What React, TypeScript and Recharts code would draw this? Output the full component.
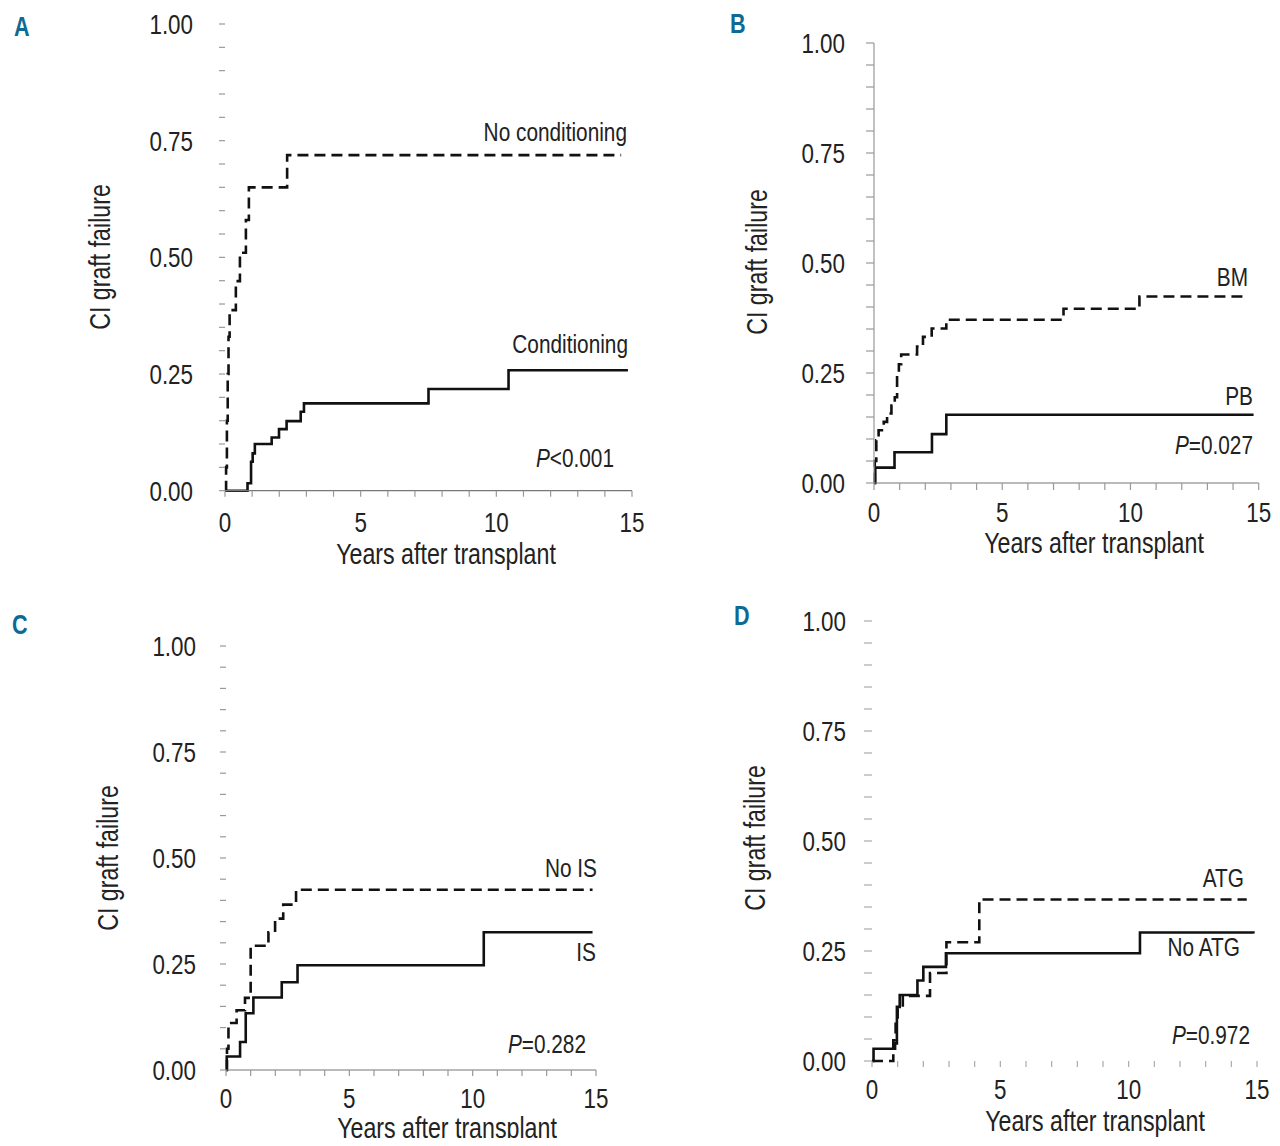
import React from 'react';
import { LineChart, Line, XAxis, YAxis } from 'recharts';

// ---------- Data ----------
// Panel A
const noCondT = [0, 0.04, 0.07, 0.1, 0.13, 0.17, 0.40, 0.55, 0.77, 0.88, 2.29, 14.6];
const noCondV = [0, 0.05, 0.15, 0.25, 0.33, 0.387, 0.449, 0.51, 0.58, 0.65, 0.719, 0.719];
const condT = [0, 0.83, 0.96, 1.02, 1.1, 1.72, 1.99, 2.27, 2.79, 2.91, 7.5, 10.45, 14.85];
const condV = [0, 0.016, 0.062, 0.08, 0.1, 0.114, 0.132, 0.149, 0.169, 0.187, 0.218, 0.258, 0.258];
// Panel B
const bmT = [0, 0.03, 0.09, 0.18, 0.38, 0.51, 0.68, 0.81, 0.9, 0.97, 1.06, 1.68, 1.91, 2.25, 2.82, 7.39, 10.35, 14.5];
const bmV = [0, 0.05, 0.097, 0.12, 0.139, 0.158, 0.176, 0.195, 0.248, 0.27, 0.292, 0.31, 0.332, 0.351, 0.371, 0.396, 0.424, 0.424];
const pbT = [0, 0.05, 0.8, 2.26, 2.82, 14.8];
const pbV = [0, 0.035, 0.07, 0.111, 0.155, 0.155];
// Panel C
const noIsT = [0, 0.04, 0.1, 0.43, 0.77, 1.0, 1.72, 1.99, 2.32, 2.84, 14.86];
const noIsV = [0, 0.05, 0.111, 0.141, 0.17, 0.293, 0.325, 0.357, 0.39, 0.425, 0.425];
const isT = [0, 0.03, 0.57, 0.8, 1.11, 2.26, 2.9, 10.45, 14.86];
const isV = [0, 0.032, 0.066, 0.134, 0.171, 0.207, 0.247, 0.325, 0.325];
// Panel D
const atgT = [0, 0.83, 0.92, 1.0, 1.2, 2.26, 2.9, 4.18, 14.6];
const atgV = [0, 0.047, 0.089, 0.12, 0.148, 0.2, 0.27, 0.367, 0.367];
const noAtgT = [0, 0.06, 0.9, 0.97, 1.08, 1.77, 2.0, 2.88, 10.44, 14.86];
const noAtgV = [0, 0.028, 0.04, 0.123, 0.15, 0.183, 0.214, 0.245, 0.292, 0.29];

// Tick values
const yTicks = [0, 0.05, 0.1, 0.15, 0.2, 0.25, 0.3, 0.35, 0.4, 0.45, 0.5, 0.55, 0.6, 0.65, 0.7, 0.75, 0.8, 0.85, 0.9, 0.95, 1.0];
const yMajor = [0, 0.25, 0.5, 0.75, 1.0];
const xTicks = [0, 1, 2, 3, 4, 5, 6, 7, 8, 9, 10, 11, 12, 13, 14, 15];
const xMajor = [0, 5, 10, 15];

const zip = (t: number[], v: number[]) => t.map((x, i) => ({ t: x, v: v[i] }));

const FONT = '"Liberation Sans", Arimo, Arial, sans-serif';
const TXT = '#222';
const SX = 0.8; // horizontal condensing to mimic the condensed typeface

function YTick(props: any) {
  const { x, y, payload } = props;
  const v = payload.value as number;
  if (!yMajor.some((m) => Math.abs(m - v) < 1e-6)) return null;
  return (
    <text transform={`translate(${x},${y}) scale(${SX},1)`} textAnchor="end" dy="0.355em"
      fill={TXT} fontSize={28} fontFamily={FONT}>{v.toFixed(2)}</text>
  );
}

function XTick(props: any) {
  const { x, y, payload } = props;
  const v = payload.value as number;
  if (!xMajor.includes(v)) return null;
  return (
    <text transform={`translate(${x},${y}) scale(${SX},1)`} textAnchor="middle" dy="0.71em"
      fill={TXT} fontSize={28} fontFamily={FONT}>{String(v)}</text>
  );
}

type PanelProps = {
  x0: number; x1: number; y0: number; y1: number;
  dashed: { t: number; v: number }[];
  solid: { t: number; v: number }[];
  yAxisLine: boolean; xAxisLine: boolean;
  yTickSize: number; yTickMargin: number;
  xTickSize: number; xTickMargin: number;
  tickColor: string;
};

function Panel(p: PanelProps) {
  const L = p.x0 - 150;
  const mt = 30;
  const T = p.y1 - mt;
  const mr = 30;
  const xh = 50;
  const W = p.x1 - L + mr;
  const H = p.y0 - T + xh;
  return (
    <div style={{ position: 'absolute', left: L, top: T }}>
      <LineChart width={W} height={H} margin={{ top: mt, right: mr, bottom: 0, left: 0 }}>
        <XAxis
          type="number" dataKey="t" domain={[0, 15]} ticks={xTicks} interval={0}
          height={xh}
          axisLine={p.xAxisLine ? { stroke: '#777', strokeWidth: 1.2 } : false}
          tickLine={{ stroke: p.tickColor, strokeWidth: 1.2 }}
          tickSize={p.xTickSize} tickMargin={p.xTickMargin}
          tick={<XTick />}
          allowDuplicatedCategory={false}
        />
        <YAxis
          type="number" domain={[0, 1]} ticks={yTicks} interval={0}
          width={150}
          axisLine={p.yAxisLine ? { stroke: '#999', strokeWidth: 1.2 } : false}
          tickLine={{ stroke: p.tickColor, strokeWidth: 1.2 }}
          tickSize={p.yTickSize} tickMargin={p.yTickMargin}
          tick={<YTick />}
        />
        <Line data={p.solid} dataKey="v" type="stepAfter" stroke="#111" strokeWidth={2.6}
          dot={false} activeDot={false} isAnimationActive={false} />
        <Line data={p.dashed} dataKey="v" type="stepAfter" stroke="#111" strokeWidth={2.6}
          strokeDasharray="11 6" dot={false} activeDot={false} isAnimationActive={false} />
      </LineChart>
    </div>
  );
}

function Txt(props: { right?: number; cx?: number; left?: number; cy: number; size: number; children: React.ReactNode; color?: string; bold?: boolean }) {
  const w = 500;
  let left = 0;
  let align: 'left' | 'right' | 'center' = 'left';
  let origin = 'left center';
  if (props.right !== undefined) { left = props.right - w; align = 'right'; origin = 'right center'; }
  else if (props.cx !== undefined) { left = props.cx - w / 2; align = 'center'; origin = 'center center'; }
  else if (props.left !== undefined) { left = props.left; align = 'left'; origin = 'left center'; }
  return (
    <div style={{
      position: 'absolute', left, top: props.cy - props.size / 2, width: w, height: props.size,
      lineHeight: `${props.size}px`, fontSize: props.size, fontFamily: FONT, textAlign: align,
      color: props.color || TXT, fontWeight: props.bold ? 'bold' : 'normal', whiteSpace: 'nowrap',
      transform: `scaleX(${SX})`, transformOrigin: origin,
    }}>{props.children}</div>
  );
}

function YTitle(props: { cx: number; cy: number }) {
  return (
    <div style={{
      position: 'absolute', left: props.cx - 150, top: props.cy - 15, width: 300, height: 30,
      lineHeight: '30px', fontSize: 29, fontFamily: FONT, color: TXT, textAlign: 'center',
      transform: `rotate(-90deg) scaleX(${SX})`, whiteSpace: 'nowrap',
    }}>CI graft failure</div>
  );
}

const P = (rest: string) => (<span><i>P</i>{rest}</span>);

export default function App() {
  const LETTER = '#0f6a93';
  return (
    <div style={{ position: 'relative', width: 1280, height: 1146, background: '#fff', margin: -8, overflow: 'hidden' }}>
      {/* Panel A */}
      <Panel x0={225} x1={632} y0={490.7} y1={24} dashed={zip(noCondT, noCondV)} solid={zip(condT, condV)}
        yAxisLine={false} xAxisLine={true} yTickSize={6} yTickMargin={26} xTickSize={6} xTickMargin={15} tickColor="#999" />
      <Txt left={14} cy={27} size={27} color={LETTER} bold>A</Txt>
      <Txt right={627} cy={132} size={26}>No conditioning</Txt>
      <Txt right={628} cy={344} size={26}>Conditioning</Txt>
      <Txt right={614} cy={458} size={26}>{P('<0.001')}</Txt>
      <YTitle cx={100} cy={257} />
      <Txt cx={446} cy={554} size={29}>Years after transplant</Txt>

      {/* Panel B */}
      <Panel x0={874.3} x1={1259} y0={482.7} y1={42.7} dashed={zip(bmT, bmV)} solid={zip(pbT, pbV)}
        yAxisLine={true} xAxisLine={true} yTickSize={8} yTickMargin={21} xTickSize={7} xTickMargin={12} tickColor="#999" />
      <Txt left={730} cy={24} size={27} color={LETTER} bold>B</Txt>
      <Txt right={1248} cy={277} size={26}>BM</Txt>
      <Txt right={1253} cy={396} size={26}>PB</Txt>
      <Txt right={1253} cy={445} size={26}>{P('=0.027')}</Txt>
      <YTitle cx={757} cy={262} />
      <Txt cx={1094} cy={543} size={29}>Years after transplant</Txt>

      {/* Panel C */}
      <Panel x0={226} x1={596} y0={1070.3} y1={646.3} dashed={zip(noIsT, noIsV)} solid={zip(isT, isV)}
        yAxisLine={false} xAxisLine={true} yTickSize={6} yTickMargin={24} xTickSize={6} xTickMargin={12} tickColor="#999" />
      <Txt left={12} cy={625} size={27} color={LETTER} bold>C</Txt>
      <Txt right={597} cy={868} size={26}>No IS</Txt>
      <Txt right={596} cy={952} size={26}>IS</Txt>
      <Txt right={586} cy={1044} size={26}>{P('=0.282')}</Txt>
      <YTitle cx={108} cy={858} />
      <Txt cx={447} cy={1128} size={29}>Years after transplant</Txt>

      {/* Panel D */}
      <Panel x0={872} x1={1257} y0={1060.7} y1={620.7} dashed={zip(atgT, atgV)} solid={zip(noAtgT, noAtgV)}
        yAxisLine={false} xAxisLine={false} yTickSize={8} yTickMargin={18} xTickSize={6} xTickMargin={12} tickColor="#aaa" />
      <Txt left={734} cy={616} size={27} color={LETTER} bold>D</Txt>
      <Txt right={1244} cy={878} size={26}>ATG</Txt>
      <Txt right={1240} cy={947} size={26}>No ATG</Txt>
      <Txt right={1250} cy={1035} size={26}>{P('=0.972')}</Txt>
      <YTitle cx={755} cy={838} />
      <Txt cx={1095} cy={1121} size={29}>Years after transplant</Txt>
    </div>
  );
}
